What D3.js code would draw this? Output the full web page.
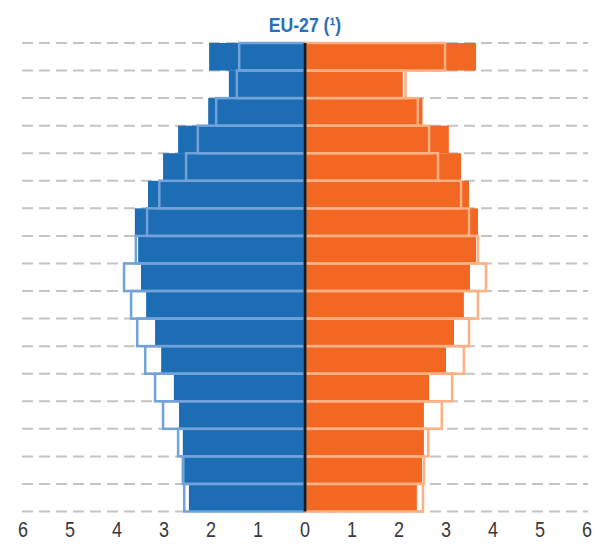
<!DOCTYPE html>
<html>
<head>
<meta charset="utf-8">
<script src="https://cdn.jsdelivr.net/npm/d3@7"></script>
<style>
  body { margin: 0; background: #fff; }
  svg { display: block; }
  text { font-family: "Liberation Sans Narrow", "Liberation Sans", Arial, sans-serif; }
</style>
</head>
<body>
<svg width="595" height="544"></svg>
<script>
// EU-27 population pyramid, % of total population

// age groups, top to bottom
var ages = ["80+", "75-79", "70-74", "65-69", "60-64", "55-59", "50-54", "45-49", "40-44",
	"35-39", "30-34", "25-29", "20-24", "15-19", "10-14", "5-9", "0-4"];
// filled bars (recent year)
var men_now   = [2.04, 1.62, 2.06, 2.70, 3.02, 3.34, 3.62, 3.55, 3.49, 3.38, 3.19, 3.06, 2.79, 2.68, 2.60, 2.57, 2.47];
var women_now = [3.64, 2.08, 2.50, 3.06, 3.32, 3.49, 3.68, 3.64, 3.51, 3.38, 3.17, 3.00, 2.64, 2.53, 2.53, 2.49, 2.38];
// outlined bars (earlier year)
var men_then   = [1.40, 1.45, 1.89, 2.28, 2.53, 3.10, 3.36, 3.60, 3.85, 3.70, 3.57, 3.40, 3.19, 3.02, 2.70, 2.60, 2.57];
var women_then = [2.98, 2.14, 2.40, 2.64, 2.83, 3.32, 3.49, 3.68, 3.85, 3.68, 3.49, 3.38, 3.13, 2.91, 2.62, 2.53, 2.51];
var ticks = [-6, -5, -4, -3, -2, -1, 0, 1, 2, 3, 4, 5, 6];

var svg = d3.select("svg");

var x = d3.scaleLinear().domain([-6, 6]).range([23, 587]);
var y = d3.scaleBand().domain(ages).range([43, 511.5]).padding(0);

// dashed grid lines at band edges
var edges = ages.map(a => y(a)).concat([y(ages[ages.length - 1]) + y.bandwidth()]);
svg.append("g")
	.selectAll("line")
	.data(edges)
	.enter().append("line")
	.attr("x1", 22)
	.attr("x2", 588)
	.attr("y1", d => d)
	.attr("y2", d => d)
	.attr("stroke", "#c4c4c4")
	.attr("stroke-width", 2)
	.attr("stroke-dasharray", "11,6");

function bars(vals, sign, cls, fill, stroke){
	svg.append("g")
		.attr("class", cls)
		.selectAll("rect")
		.data(vals)
		.enter().append("rect")
		.attr("x", d => sign < 0 ? x(-d) : x(0))
		.attr("width", d => x(d) - x(0))
		.attr("y", (d, i) => y(ages[i]))
		.attr("height", y.bandwidth())
		.attr("fill", fill)
		.attr("stroke", stroke)
		.attr("stroke-width", stroke == "none" ? 0 : 2.5);
}

bars(men_now, -1, "men-now", "#1d6db5", "none");
bars(women_now, 1, "women-now", "#f26722", "none");
bars(men_then, -1, "men-then", "none", "#72a2da");
bars(women_then, 1, "women-then", "none", "#fcb083");

// zero line
svg.append("line")
	.attr("x1", x(0)).attr("x2", x(0))
	.attr("y1", 43).attr("y2", 511.5)
	.attr("stroke", "#1a1a1a")
	.attr("stroke-width", 3);

// tick labels, squeezed to look condensed
svg.append("g")
	.selectAll("text")
	.data(ticks)
	.enter().append("text")
	.attr("transform", d => "translate(" + x(d) + ",537) scale(0.82,1)")
	.attr("text-anchor", "middle")
	.attr("font-size", 22)
	.attr("fill", "#3a3a3a")
	.text(d => Math.abs(d));

// title
svg.append("text")
	.attr("transform", "translate(" + x(0) + ",32) scale(0.84,1)")
	.attr("text-anchor", "middle")
	.attr("font-size", 21)
	.attr("font-weight", "bold")
	.attr("fill", "#2a6fb8")
	.text("EU-27 (\u00b9)");
</script>
</body>
</html>
